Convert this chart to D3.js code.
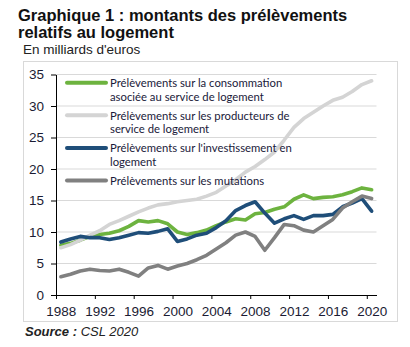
<!DOCTYPE html>
<html>
<head>
<meta charset="utf-8">
<script src="https://cdn.jsdelivr.net/npm/d3@7"></script>
<style>
body { margin:0; background:#fff; }
svg { display:block; }
.title { font-family:"Liberation Sans", Arial, sans-serif; font-weight:bold; font-size:16.5px; fill:#111; }
.unit { font-family:"Liberation Sans", Arial, sans-serif; font-size:13.5px; fill:#222; }
.source { font-family:"Liberation Sans", Arial, sans-serif; font-style:italic; font-size:13px; fill:#222; }
.axis text { font-family:"Liberation Sans", Arial, sans-serif; font-size:13.5px; fill:#1b1b33; }
.axis path, .axis line { stroke:#000; }
.legend text { font-family:Lato, "Open Sans", sans-serif; font-size:11.3px; fill:#1a1a3a; }
</style>
</head>
<body>
<svg></svg>
<script>
// years on the category axis, one value per year
var years = d3.range(1988, 2021);
var tickYears = [1988, 1992, 1996, 2000, 2004, 2008, 2012, 2016, 2020];
var yTicks = [0, 5, 10, 15, 20, 25, 30, 35];

// en milliards d'euros
var consommation = [7.9, 8.2, 8.7, 9.3, 9.6, 9.8, 10.2, 10.9, 11.8, 11.6, 11.8, 11.3, 10.0, 9.6, 9.9, 10.3,
    11.0, 11.6, 12.1, 11.9, 12.9, 13.1, 13.6, 14.0, 15.2, 15.9, 15.3, 15.5, 15.6, 15.9, 16.4, 17.0, 16.7];
var producteurs = [7.5, 8.0, 8.7, 9.5, 10.2, 11.2, 11.8, 12.5, 13.2, 13.8, 14.3, 14.5, 14.8, 15.0, 15.2, 15.7,
    16.3, 17.3, 18.3, 19.5, 20.4, 21.5, 22.7, 24.6, 26.6, 28.0, 29.0, 30.0, 30.9, 31.4, 32.3, 33.4, 34.0];
var investissement = [8.4, 8.9, 9.3, 9.1, 9.1, 8.8, 9.1, 9.5, 9.9, 9.8, 10.1, 10.5, 8.5, 8.9, 9.5, 9.8,
    10.7, 11.8, 13.4, 14.2, 14.8, 13.0, 11.4, 12.1, 12.6, 12.0, 12.6, 12.6, 12.8, 14.0, 14.6, 15.3, 13.3];
var mutations = [2.9, 3.3, 3.8, 4.1, 3.9, 3.8, 4.1, 3.6, 3.0, 4.3, 4.7, 4.1, 4.6, 5.0, 5.6, 6.3,
    7.3, 8.3, 9.5, 10.0, 9.3, 7.1, 9.1, 11.2, 11.0, 10.3, 10.0, 11.0, 12.0, 13.8, 14.8, 15.7, 15.3];

var seriesNames = [
    ["Prélèvements sur la consommation", "asociée au service de logement"],
    ["Prélèvements sur les producteurs de", "service de logement"],
    ["Prélèvements sur l'investissement en", "logement"],
    ["Prélèvements sur les mutations"]
];
var seriesValues = [consommation, producteurs, investissement, mutations];
var seriesColors = ["#6db33f", "#d4d4d4", "#1f4e79", "#808080"];

var createLabels = function(svg)
{
    var labels = svg.append("g").classed("labels", true);

    labels.append("text")
        .classed("title", true)
        .attr("x", 18).attr("y", 20.5)
        .text("Graphique 1 : montants des prélèvements");
    labels.append("text")
        .classed("title", true)
        .attr("x", 18).attr("y", 38)
        .text("relatifs au logement");

    labels.append("text")
        .classed("unit", true)
        .attr("x", 23).attr("y", 53.5)
        .text("En milliards d'euros");

    var src = labels.append("text")
        .classed("source", true)
        .attr("x", 25).attr("y", 336);
    src.append("tspan").attr("font-weight", "bold").text("Source : ");
    src.append("tspan").text("CSL 2020");
}

var createAxes = function(svg, graph, xScale, yScale)
{
    // light grid behind the lines
    svg.append("g")
        .selectAll("line")
        .data(yTicks.filter(function(t) { return t > 0; }))
        .enter()
        .append("line")
        .attr("x1", graph.left)
        .attr("x2", graph.right)
        .attr("y1", function(t) { return yScale(t); })
        .attr("y2", function(t) { return yScale(t); })
        .attr("stroke", "#d9d9d9")
        .attr("stroke-width", 1);

    var half = (xScale(1989) - xScale(1988)) / 2;

    var xAxis = d3.axisBottom(xScale)
        .tickValues(tickYears.map(function(y) { return y - 0.5; }))
        .tickFormat(function(d) { return d + 0.5; })
        .tickSize(4)
        .tickSizeOuter(0);

    var xg = svg.append("g")
        .classed("axis", true)
        .attr("transform", "translate(0," + yScale(0) + ")")
        .call(xAxis);
    // labels sit in the middle of each year's slot
    xg.selectAll(".tick text")
        .attr("x", half)
        .attr("dy", 0)
        .attr("y", 21);

    var yAxis = d3.axisLeft(yScale)
        .tickValues(yTicks)
        .tickSize(5)
        .tickSizeOuter(0);

    var yg = svg.append("g")
        .classed("axis", true)
        .attr("transform", "translate(" + graph.left + ",0)")
        .call(yAxis);
    yg.selectAll(".tick text").attr("x", -12);
}

var drawLines = function(svg, xScale, yScale)
{
    var lineGenerator = d3.line()
        .x(function(v, i) { return xScale(years[i]); })
        .y(function(v) { return yScale(v); });

    svg.append("g")
        .classed("graph", true)
        .selectAll("path")
        .data(seriesValues)
        .enter()
        .append("path")
        .attr("fill", "none")
        .attr("stroke", function(d, i) { return seriesColors[i]; })
        .attr("stroke-width", 3.6)
        .attr("stroke-linejoin", "round")
        .attr("stroke-linecap", "round")
        .attr("d", lineGenerator);
}

var drawLegend = function(svg)
{
    var legend = svg.append("g").classed("legend", true);

    var items = legend.selectAll("g")
        .data(seriesNames)
        .enter()
        .append("g")
        .attr("transform", function(d, i) { return "translate(0," + (82.7 + i * 32.6) + ")"; });

    items.append("line")
        .attr("x1", 67).attr("x2", 106)
        .attr("y1", 0).attr("y2", 0)
        .attr("stroke", function(d, i) { return seriesColors[i]; })
        .attr("stroke-width", 4)
        .attr("stroke-linecap", "round");

    items.append("text")
        .attr("x", 110)
        .attr("y", 4.5)
        .selectAll("tspan")
        .data(function(d) { return d; })
        .enter()
        .append("tspan")
        .attr("x", 110)
        .attr("dy", function(d, i) { return i == 0 ? 0 : 13.7; })
        .text(function(d) { return d; });
}

var initGraph = function()
{
    var screen = {width:410, height:347};
    var graph = {left:56, right:376.5, top:74.5, bottom:295};

    var svg = d3.select("svg")
        .attr("width", screen.width)
        .attr("height", screen.height);

    // outer frame around the plot
    svg.append("rect")
        .attr("x", 23.5).attr("y", 61.5)
        .attr("width", 374).attr("height", 260)
        .attr("fill", "none")
        .attr("stroke", "#d9d9d9");

    var xScale = d3.scaleLinear()
        .domain([1987.5, 2020.5])
        .range([graph.left, graph.right]);

    var yScale = d3.scaleLinear()
        .domain([0, 35])
        .range([graph.bottom, graph.top]);

    createLabels(svg);
    createAxes(svg, graph, xScale, yScale);
    drawLines(svg, xScale, yScale);
    drawLegend(svg);
}

initGraph();
</script>
</body>
</html>
